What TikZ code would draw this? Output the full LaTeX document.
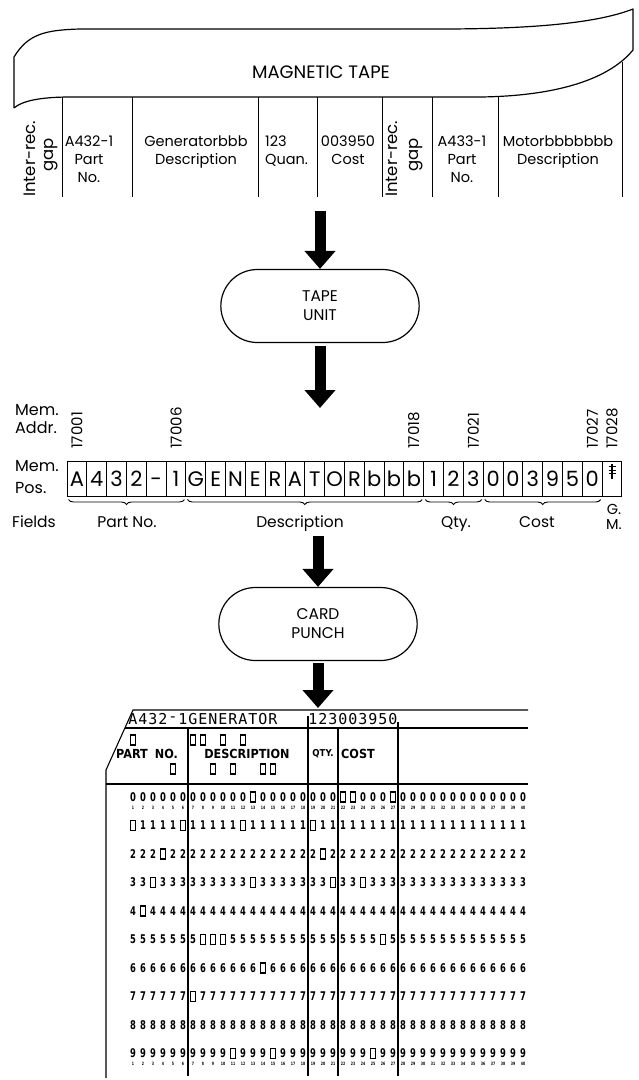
\documentclass[tikz,border=0pt]{standalone}
\usepackage{fontspec}
\setmainfont{Poppins}
\newfontfamily\cardfont[FakeStretch=0.7]{DejaVu Sans}
\newfontfamily\labelfont[FakeStretch=0.9]{DejaVu Sans}
\newfontfamily\printfont{DejaVu Sans Mono}
\usetikzlibrary{arrows.meta,shapes.misc,decorations.pathreplacing,positioning}

% one position of the card: a hole if the column is in the list, else the digit
\makeatletter
\newcommand\cardcell[3]{%
  \edef\cardtest{\noexpand\in@{.#2.}{.#3.}}\cardtest
  \ifin@
    \node[punchhole] (h#1-#2) at ({133+(#2-1)*10},{797+#1*28.5}) {};%
  \else
    \node[punchdigit] (d#1-#2) at ({133+(#2-1)*10},{797+#1*28.5}) {#1};%
  \fi}
\makeatother

\begin{document}
\begin{tikzpicture}[x=1pt, y=-1pt,
  tapeline/.style={line width=1.2pt, line join=round},
  tapecol/.style={line width=1pt},
  tapetext/.style={font=\fontsize{14.5}{18}\selectfont, align=center, inner sep=0pt, anchor=north},
  gaptext/.style={font=\fontsize{16.5}{18}\selectfont, inner sep=0pt, rotate=90},
  bigarrow/.style={line width=11pt, -{Triangle[width=30pt,length=18pt]}},
  unitoval/.style={draw, line width=1.2pt, rounded rectangle, minimum width=205pt, minimum height=73pt, align=center, font=\fontsize{15.5}{19}\selectfont},
  memcell/.style={draw, line width=1pt, minimum width=19.8pt, minimum height=35pt, inner sep=0pt, outer sep=0pt, text height=15pt, text depth=0pt, font=\fontsize{21}{21}\selectfont},
  addrtext/.style={rotate=90, anchor=west, inner sep=0pt, font=\fontsize{15}{15}\selectfont},
  sidelabel/.style={anchor=west, inner sep=0pt, font=\fontsize{16}{16}\selectfont},
  fieldbrace/.style={decorate, decoration={brace, mirror, amplitude=5pt}, line width=0.9pt},
  fieldlabel/.style={inner sep=0pt, text height=11pt, text depth=3pt, font=\fontsize{15.5}{12}\selectfont},
  cardline/.style={line width=1.1pt},
  printchar/.style={inner sep=0pt, font=\printfont\fontsize{15}{15}\selectfont},
  cardlabel/.style={inner sep=0pt, font=\labelfont\bfseries\fontsize{12.5}{13}\selectfont},
  punchhole/.style={draw, line width=1.4pt, minimum width=5pt, minimum height=10pt, inner sep=0pt},
  punchdigit/.style={inner sep=0pt, font=\cardfont\bfseries\fontsize{12}{12}\selectfont},
  colnum/.style={inner sep=0pt, font=\cardfont\bfseries\fontsize{4.5}{5}\selectfont}]
\useasboundingbox (0,0) rectangle (639,1080);

% magnetic tape
\draw[tapeline] (14,108) -- (14,57) .. controls (28,34) and (45,30) .. (80,29) -- (440,29)
  .. controls (540,29) and (600,22) .. (633,9) -- (633,50)
  .. controls (610,78) and (560,96) .. (480,97) -- (70,97) .. controls (40,97) and (22,101) .. (14,108);
\node[font=\fontsize{18}{18}\selectfont] (tapename) at (321,72) {MAGNETIC TAPE};
\foreach \x in {62,132,258,317,382,432,498}
  \draw[tapecol] (\x,97) -- (\x,197);
\draw[tapecol] (622,62) -- (622,197);
\node[gaptext, anchor=west] (gapa1) at (30,197) {Inter-rec.};
\node[gaptext] (gapa2) at (51,155) {gap};
\node[tapetext] (parta) at (89,136) {A432-1\\Part\\No.};
\node[tapetext] (desca) at (196,136) {Generatorbbb\\Description};
\node[tapetext, align=left, anchor=north west] (quana) at (265,136) {123\\Quan.};
\node[tapetext] (costa) at (348,136) {003950\\Cost};
\node[gaptext, anchor=west] (gapb1) at (392,197) {Inter-rec.};
\node[gaptext] (gapb2) at (416,155) {gap};
\node[tapetext] (partb) at (462,136) {A433-1\\Part\\No.};
\node[tapetext] (descb) at (558,136) {Motorbbbbbbb\\Description};

% tape unit
\node[unitoval] (tapeunit) at (320,306) {TAPE\\UNIT};
\coordinate (tapeout) at (320,211);
\draw[bigarrow] (tapeout) -- (tapeunit.north);

% memory
\foreach \ch [count=\i] in {A,4,3,2,-,1,G,E,N,E,R,A,T,O,R,b,b,b,1,2,3,0,0,3,9,5,0,{}}
  \node[memcell] (m\i) at ({67+(\i-0.5)*19.82},479) {\ch};
\draw[line width=1.2pt] ([yshift=15pt]m28.center) -- ([yshift=0pt]m28.center);
\foreach \dy in {12.5,9,5.5}
  \draw[line width=1pt] ([xshift=-3.5pt,yshift=\dy pt]m28.center) -- ([xshift=3.5pt,yshift=\dy pt]m28.center);
\foreach \i/\a in {1/17001,6/17006,18/17018,21/17021,27/17027,28/17028}
  \node[addrtext] (addr\a) at ([yshift=12.5pt]m\i.north) {\a};
\node[sidelabel] (memaddr1) at (15,410) {Mem.};
\node[sidelabel] (memaddr2) at (15,428) {Addr.};
\node[sidelabel] (mempos1) at (15,466) {Mem.};
\node[sidelabel] (mempos2) at (15,488) {Pos.};
\coordinate (memin) at (320,408);
\draw[bigarrow, shorten <=3pt] (tapeunit.south) -- (memin);

% fields
\draw[fieldbrace] ([xshift=1.5pt,yshift=-3pt]m1.south west) -- ([xshift=-1.5pt,yshift=-3pt]m6.south east);
\draw[fieldbrace] ([xshift=1.5pt,yshift=-3pt]m7.south west) -- ([xshift=-1.5pt,yshift=-3pt]m18.south east);
\draw[fieldbrace] ([xshift=1.5pt,yshift=-3pt]m19.south west) -- ([xshift=-1.5pt,yshift=-3pt]m21.south east);
\draw[fieldbrace] ([xshift=1.5pt,yshift=-3pt]m22.south west) -- ([xshift=-1.5pt,yshift=-3pt]m27.south east);
\node[fieldlabel, anchor=west] (fields) at (12,523) {Fields};
\node[fieldlabel] (fpart) at (127,523) {Part No.};
\node[fieldlabel] (fdesc) at (300,523) {Description};
\node[fieldlabel] (fqty) at (456,523) {Qty.};
\node[fieldlabel] (fcost) at (537,523) {Cost};
\node[inner sep=0pt, font=\fontsize{14.5}{14}\selectfont] (fg) at (614,509) {G.};
\node[inner sep=0pt, font=\fontsize{14.5}{14}\selectfont] (fm) at (614,525) {M.};

% card punch
\node[unitoval] (cardpunch) at (318,624) {CARD\\PUNCH};
\coordinate (fieldsout) at (cardpunch.north |- 0,536);
\draw[bigarrow] (fieldsout) -- (cardpunch.north);
\coordinate (cardin) at (cardpunch.south |- 0,708);
\draw[bigarrow, shorten <=2pt] (cardpunch.south) -- (cardin);

% punched card
\draw[cardline] (528,710) -- (133,710) -- (106,770) -- (106,1078);
\draw[cardline] (125,728) -- (528,728);
\draw[cardline] (106,784) -- (528,784);
\draw[cardline] (188,728) -- (188,1076);
\draw[cardline] (308,716) -- (308,1076);
\draw[cardline] (338,728) -- (338,1076);
\draw[cardline] (398,722) -- (398,1076);
\foreach \ch [count=\c] in {A,4,3,2,-,1,G,E,N,E,R,A,T,O,R}
  \node[printchar] (pa\c) at ({133+(\c-1)*10},719) {\ch};
\foreach \ch [count=\c from 19] in {1,2,3,0,0,3,9,5,0}
  \node[printchar] (pb\c) at ({133+(\c-1)*10},719) {\ch};
\node[cardlabel] (cpart) at (147,754) {PART\hspace{7pt}NO.};
\node[cardlabel] (cdesc) at (247,754) {DESCRIPTION};
\node[cardlabel, font=\labelfont\bfseries\fontsize{9.5}{10}\selectfont] (cqty) at (323,754) {QTY.};
\node[cardlabel] (ccost) at (358,754) {COST};
\foreach \c in {1,7,8,10,12}
  \node[punchhole] (hz12-\c) at ({133+(\c-1)*10},740) {};
\foreach \c in {5,9,11,14,15}
  \node[punchhole] (hz11-\c) at ({133+(\c-1)*10},769) {};
\foreach \r/\holes in {0/13.22.23.27, 1/1.6.12.19, 2/4.20, 3/3.13.21.24, 4/2, 5/8.9.10.26, 6/14, 7/7, 8/0, 9/11.15.25}
  \foreach \c in {1,...,40}
    {\cardcell{\r}{\c}{\holes}}
\foreach \c in {1,...,40}{
  \node[colnum] (ntop\c) at ({133+(\c-1)*10},808) {\c};
  \node[colnum] (nbot\c) at ({133+(\c-1)*10},1064) {\c};
}
\end{tikzpicture}
\end{document}
